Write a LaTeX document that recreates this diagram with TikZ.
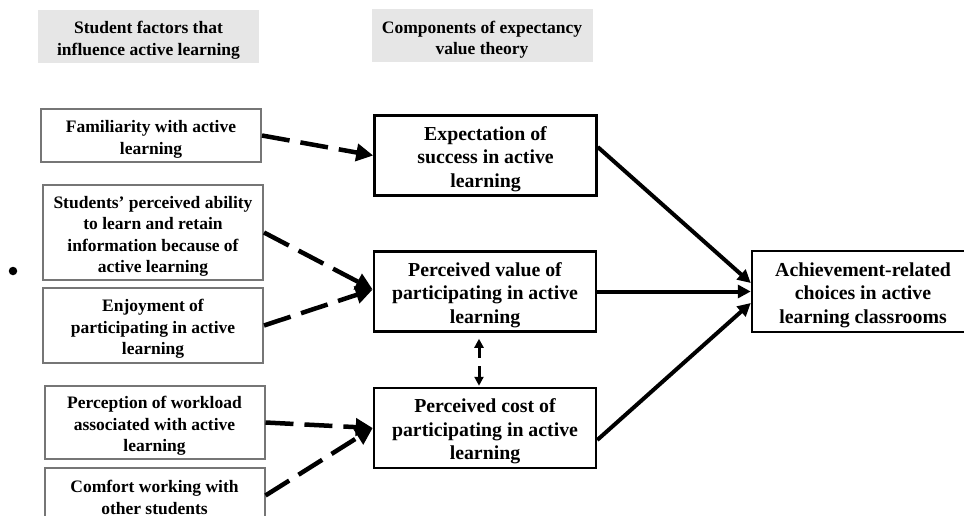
\documentclass[tikz,border=0pt]{standalone}
\usepackage{fontspec}
\setmainfont{Liberation Serif}
\usetikzlibrary{arrows.meta,calc}
\definecolor{hdrgray}{HTML}{E6E6E6}
\definecolor{boxgray}{HTML}{767676}
\newcommand\lowtext[1]{\raisebox{-3.5pt}[\height][\depth]{\begin{tabular}{@{}c@{}}#1\end{tabular}}}
\begin{document}
\begin{tikzpicture}[x=1pt,y=-1pt,
  hdr/.style={fill=hdrgray, draw=none, minimum width=221pt, minimum height=53pt, inner sep=0pt, align=center,
    font=\bfseries\fontsize{17.5}{21.5}\selectfont},
  factor/.style={draw=boxgray, line width=2pt, fill=white, minimum width=220pt, inner sep=0pt, align=center,
    font=\bfseries\fontsize{17.5}{21.5}\selectfont},
  comp/.style={draw=black, line width=2.5pt, fill=white, minimum width=222pt, minimum height=80pt, inner sep=0pt, align=center,
    font=\bfseries\fontsize{19.8}{23.5}\selectfont},
  dasharrow/.style={line width=4.5pt, dash pattern=on 28pt off 11pt, -{Triangle[length=17pt,width=17pt]}},
  solidarrow/.style={line width=4pt, -{Triangle[length=13pt,width=13pt]}},
  linkarrow/.style={line width=3pt, dash pattern=on 11pt off 8pt, {Triangle[length=9pt,width=9pt]}-{Triangle[length=9pt,width=9pt]}}
]
\useasboundingbox (0,0) rectangle (964,516);

% headers
\node[hdr] (h1) at (148.5,36.5) {\lowtext{Student factors that\\influence active learning}};
\node[hdr] (h2) at (482,36) {\lowtext{Components of expectancy\\value theory}};

% left factor boxes
\node[factor, minimum height=53pt] (fam) at (151,135.5) {\lowtext{Familiarity with active\\learning}};
\node[factor, minimum height=95pt] (stud) at (153,232.5) {\lowtext{Students’ perceived ability\\to learn and retain\\information because of\\active learning}};
\node[factor, minimum height=75pt] (enj) at (153,325.5) {\lowtext{Enjoyment of\\participating in active\\learning}};
\node[factor, minimum height=73pt] (work) at (154.5,422.5) {\lowtext{Perception of workload\\associated with active\\learning}};
\node[factor, minimum height=55pt] (comf) at (154.5,495.5) {\lowtext{Comfort working with\\other students}};

% bullet
\node[circle, fill=black, inner sep=0pt, minimum size=8.5pt] (bullet) at (13,271) {};

% middle component boxes
\node[comp] (exp) at (485.5,155.5) {\lowtext{Expectation of\\success in active\\learning}};
\node[comp] (val) at (485,291.5) {\lowtext{Perceived value of\\participating in active\\learning}};
\node[comp] (cost) at (485,428) {\lowtext{Perceived cost of\\participating in active\\learning}};

% right box
\node[comp, minimum height=81pt] (ach) at (863,291.5) {\lowtext{Achievement-related\\choices in active\\learning classrooms}};

% dashed arrows
\draw[dasharrow] (fam.east) -- (exp.west);
\draw[dasharrow] (stud.east) -- ($(val.west)+(0,-2)$);
\draw[dasharrow] (enj.east) -- ($(val.west)+(0,-2)$);
\draw[dasharrow] (work.east) -- (cost.west);
\draw[dasharrow] (comf.east) -- (cost.west);

% solid arrows
\draw[solidarrow] ($(exp.east)+(0,-8.5)$) -- ($(ach.west)+(0,-8.5)$);
\draw[solidarrow] (val.east) -- (ach.west);
\draw[solidarrow] ($(cost.east)+(0,12)$) -- ($(ach.west)+(0,11.5)$);

% link between value and cost
\draw[linkarrow] ($(val.south)+(-6,6)$) -- ($(cost.north)+(-6,-1)$);
\end{tikzpicture}
\end{document}
